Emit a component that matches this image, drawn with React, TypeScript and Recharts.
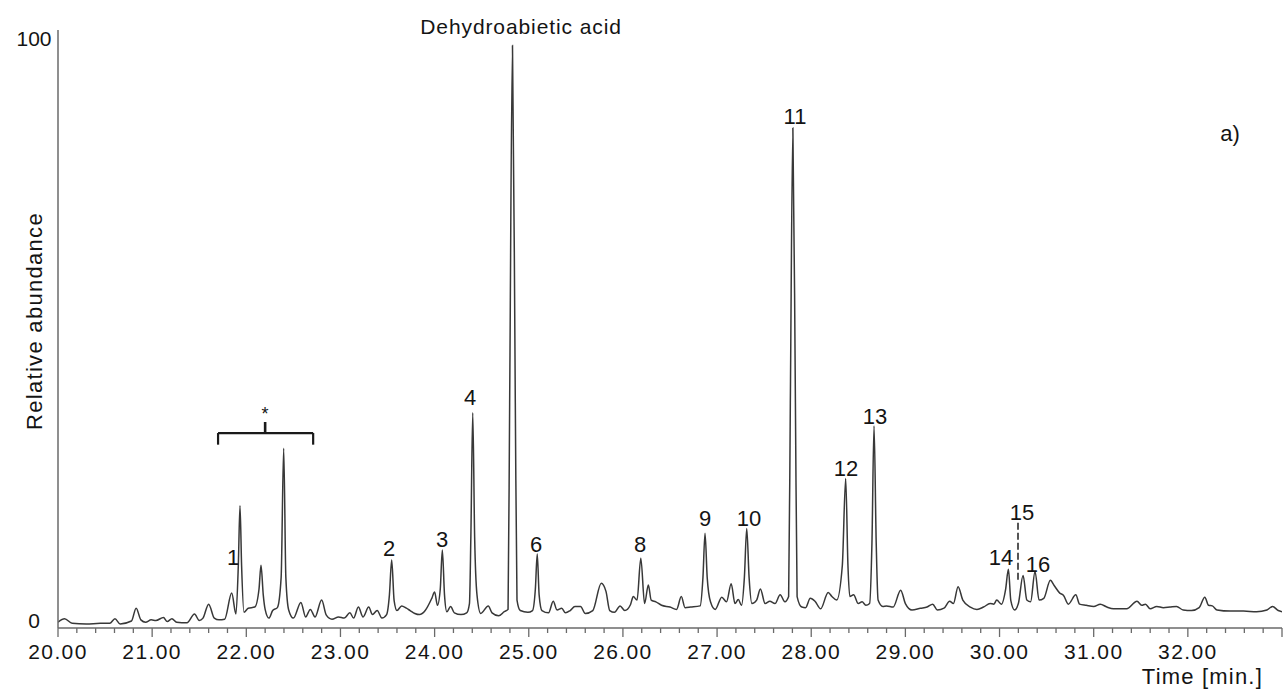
import React from 'react';
import { LineChart, Line, XAxis, YAxis, ReferenceDot, ReferenceLine } from 'recharts';

const times: number[] = [
  20.0, 20.07, 20.15, 20.3, 20.45, 20.55, 20.605, 20.66, 20.78, 20.83, 20.88, 20.93, 20.99, 21.04, 21.12, 21.16,
  21.21, 21.26, 21.37, 21.45, 21.5, 21.54, 21.6, 21.66, 21.71, 21.77, 21.845, 21.89, 21.915, 21.933, 21.95, 21.975,
  22.02, 22.09, 22.135, 22.156, 22.18, 22.2, 22.24, 22.28, 22.33, 22.37, 22.397, 22.42, 22.45, 22.5, 22.58, 22.63,
  22.68, 22.73, 22.8, 22.85, 22.91, 22.98, 23.04, 23.1, 23.14, 23.19, 23.24, 23.3, 23.34, 23.39, 23.44, 23.49,
  23.52, 23.544, 23.57, 23.6, 23.65, 23.7, 23.74, 23.79, 23.84, 23.9, 23.97, 24.0, 24.03, 24.06, 24.082, 24.105,
  24.13, 24.17, 24.21, 24.28, 24.34, 24.37, 24.385, 24.405, 24.425, 24.45, 24.49, 24.57, 24.61, 24.68, 24.74, 24.78,
  24.797, 24.827, 24.857, 24.875, 24.91, 24.99, 25.04, 25.07, 25.09, 25.11, 25.14, 25.21, 25.26, 25.3, 25.35, 25.39,
  25.44, 25.49, 25.55, 25.6, 25.68, 25.77, 25.82, 25.86, 25.91, 25.97, 26.02, 26.08, 26.11, 26.15, 26.19, 26.23,
  26.27, 26.3, 26.35, 26.41, 26.5, 26.57, 26.62, 26.66, 26.72, 26.82, 26.85, 26.872, 26.895, 26.93, 26.98, 27.05,
  27.1, 27.15, 27.19, 27.225, 27.26, 27.29, 27.315, 27.34, 27.37, 27.42, 27.46, 27.51, 27.56, 27.615, 27.67, 27.72,
  27.76, 27.778, 27.805, 27.832, 27.85, 27.9, 27.94, 27.99, 28.04, 28.1, 28.18, 28.22, 28.27, 28.33, 28.366, 28.39,
  28.41, 28.45, 28.5, 28.54, 28.58, 28.62, 28.645, 28.667, 28.69, 28.71, 28.76, 28.8, 28.87, 28.95, 29.0, 29.07,
  29.16, 29.23, 29.29, 29.34, 29.41, 29.47, 29.51, 29.56, 29.61, 29.69, 29.76, 29.83, 29.9, 29.94, 29.97, 30.02,
  30.065, 30.094, 30.12, 30.16, 30.2, 30.25, 30.29, 30.33, 30.377, 30.42, 30.47, 30.54, 30.58, 30.64, 30.68, 30.73,
  30.81, 30.85, 30.92, 31.0, 31.07, 31.14, 31.21, 31.35, 31.46, 31.51, 31.55, 31.6, 31.67, 31.74, 31.81, 31.88,
  31.95, 32.04, 32.12, 32.18, 32.22, 32.26, 32.31, 32.45, 32.59, 32.73, 32.84, 32.9, 32.96, 33.0,
];

const abundance: number[] = [
  0.3, 0.9, 0.1, 0.0, 0.1, 0.1, 0.9, 0.0, 0.5, 2.7, 0.7, 0.3, 0.7, 0.6, 1.1, 0.4,
  0.9, 0.3, 0.2, 1.7, 0.6, 1.0, 3.4, 1.0, 0.7, 0.8, 5.3, 1.7, 10.0, 20.3, 10.0, 2.0,
  2.7, 2.9, 6.0, 10.1, 5.0, 2.5, 1.0, 2.3, 2.8, 8.0, 30.2, 8.0, 2.4, 1.0, 3.7, 1.2,
  2.5, 1.2, 4.1, 1.5, 0.8, 1.2, 1.0, 1.9, 1.0, 2.9, 1.2, 2.9, 1.6, 2.3, 1.0, 1.6,
  5.0, 11.0, 4.0, 2.3, 3.1, 2.7, 2.3, 1.8, 1.6, 2.3, 4.4, 5.5, 3.2, 6.0, 12.7, 5.0,
  2.1, 3.0, 1.9, 1.6, 1.9, 3.5, 15.0, 36.3, 15.0, 5.0, 1.8, 3.1, 1.9, 1.4, 2.1, 2.5,
  38.0, 99.4, 38.0, 4.1, 2.3, 2.0, 2.3, 6.0, 12.0, 5.0, 2.3, 1.9, 3.9, 2.4, 2.7, 1.9,
  2.3, 3.0, 3.0, 1.8, 2.3, 7.0, 5.6, 2.3, 2.0, 3.1, 2.3, 3.3, 4.7, 4.1, 11.3, 3.5,
  6.7, 4.1, 3.8, 3.2, 2.9, 2.5, 4.7, 2.8, 2.9, 3.1, 8.0, 15.6, 8.0, 3.8, 2.5, 4.6,
  3.8, 6.9, 3.5, 4.2, 3.2, 8.0, 16.4, 8.0, 3.5, 4.1, 6.0, 3.5, 3.9, 3.5, 5.0, 3.8,
  4.7, 38.0, 85.2, 38.0, 4.7, 2.9, 2.8, 4.4, 3.9, 2.6, 5.4, 4.7, 4.1, 10.0, 25.0, 10.0,
  4.7, 5.0, 3.5, 3.8, 3.2, 3.5, 14.0, 34.0, 14.0, 4.1, 3.0, 3.1, 2.9, 5.8, 3.5, 2.4,
  2.7, 2.9, 3.4, 2.4, 2.7, 3.9, 3.5, 6.4, 4.1, 2.9, 2.5, 2.9, 3.5, 3.4, 4.1, 3.4,
  6.0, 9.4, 4.0, 2.4, 3.5, 8.3, 4.1, 3.8, 9.0, 4.1, 4.4, 7.5, 6.6, 5.3, 4.9, 3.4,
  5.0, 3.4, 3.2, 3.0, 3.4, 2.9, 2.6, 2.6, 3.9, 3.2, 3.4, 2.6, 3.0, 2.8, 2.9, 3.0,
  2.4, 2.3, 2.8, 4.6, 3.2, 3.1, 2.4, 2.2, 2.2, 2.1, 2.4, 3.0, 2.3, 2.1,
];

const majorTicks: number[] = [20, 21, 22, 23, 24, 25, 26, 27, 28, 29, 30, 31, 32, 33];
const majorTickLabels: string[] = ['20.00', '21.00', '22.00', '23.00', '24.00', '25.00', '26.00', '27.00', '28.00', '29.00', '30.00', '31.00', '32.00', ''];
const minorStep = 0.2;
const yTicks: number[] = [0, 100];
const yTickLabels: string[] = ['0', '100'];

const peakLabels: string[] = ['1', '2', '3', '4', '6', '8', '9', '10', '11', '12', '13', '14', '15', '16', '*'];
const peakLabelTimes: number[] = [21.859, 23.516, 24.079, 24.376, 25.077, 26.182, 26.872, 27.339, 27.828, 28.37, 28.678, 30.016, 30.239, 30.409, 22.199];
const peakLabelValues: number[] = [11.5, 13.06, 14.6, 39.0, 13.75, 13.75, 18.2, 18.2, 87.3, 26.8, 35.7, 11.5, 19.2, 10.3, 36.1];

const data = times.map((t, i) => ({ t, v: abundance[i] }));

const allTicks: number[] = [];
for (let k = 0; k <= 65; k++) allTicks.push(Math.round((20 + k * minorStep) * 100) / 100);

const FONT = '"Liberation Sans", Arial, sans-serif';
const TXT = '#141414';
const AXIS = '#6a6a6a';

const XTick = (props: any) => {
  const { x, y, payload } = props;
  const idx = majorTicks.findIndex((m) => Math.abs(m - payload.value) < 1e-6);
  const major = idx >= 0;
  return (
    <g>
      <line x1={x} y1={y} x2={x} y2={y + (major ? 9 : 5)} stroke={AXIS} strokeWidth={1.3} />
      {major && majorTickLabels[idx] !== '' && (
        <text x={x} y={y + 23} textAnchor="middle" dominantBaseline="central" fontFamily={FONT} fontSize={21} letterSpacing={1.4} fill={TXT}>
          {majorTickLabels[idx]}
        </text>
      )}
    </g>
  );
};

const YTick = (props: any) => {
  const { y, payload } = props;
  const idx = yTicks.indexOf(payload.value);
  return (
    <text x={34} y={y - 3} textAnchor="middle" dominantBaseline="central" fontFamily={FONT} fontSize={21} fill={TXT}>
      {idx >= 0 ? yTickLabels[idx] : ''}
    </text>
  );
};

export default function App() {
  return (
    <div style={{ position: 'absolute', left: 0, top: 0, width: 1287, height: 700, background: '#fff' }}>
      <LineChart width={1287} height={700} data={data} margin={{ top: 30, right: 5, left: 0, bottom: 0 }}>
        <XAxis
          dataKey="t"
          type="number"
          domain={[20, 33]}
          allowDataOverflow
          ticks={allTicks}
          interval={0}
          tickSize={0}
          tickMargin={0}
          tickLine={false}
          tick={<XTick />}
          height={72}
          axisLine={{ stroke: AXIS, strokeWidth: 1.5 }}
          label={{
            content: () => (
              <text x={1263} y={676} textAnchor="end" dominantBaseline="central" fontFamily={FONT} fontSize={22} letterSpacing={1.2} fill={TXT}>
                Time [min.]
              </text>
            ),
          }}
        />
        <YAxis
          type="number"
          domain={[-0.7, 102.05]}
          allowDataOverflow
          ticks={yTicks}
          tickLine={false}
          tick={<YTick />}
          width={58}
          axisLine={{ stroke: AXIS, strokeWidth: 1.5 }}
          label={{
            content: () => (
              <text x={34} y={321} transform="rotate(-90 34 321)" textAnchor="middle" dominantBaseline="central" fontFamily={FONT} fontSize={22} letterSpacing={1.3} fill={TXT}>
                Relative abundance
              </text>
            ),
          }}
        />
        <Line type="monotone" dataKey="v" stroke="#383838" strokeWidth={1.5} dot={false} isAnimationActive={false} />

        {/* bracket over the * group */}
        <ReferenceLine segment={[{ x: 21.7, y: 32.8 }, { x: 22.71, y: 32.8 }]} stroke="#1a1a1a" strokeWidth={2.2} ifOverflow="visible" />
        <ReferenceLine segment={[{ x: 21.7, y: 32.8 }, { x: 21.7, y: 30.8 }]} stroke="#1a1a1a" strokeWidth={2.2} ifOverflow="visible" />
        <ReferenceLine segment={[{ x: 22.71, y: 32.8 }, { x: 22.71, y: 30.8 }]} stroke="#1a1a1a" strokeWidth={2.2} ifOverflow="visible" />
        <ReferenceLine segment={[{ x: 22.2, y: 32.8 }, { x: 22.2, y: 34.7 }]} stroke="#1a1a1a" strokeWidth={2.6} ifOverflow="visible" />

        {/* dashed pointer for peak 15 */}
        <ReferenceLine segment={[{ x: 30.196, y: 17.4 }, { x: 30.196, y: 7.6 }]} stroke="#555" strokeWidth={2} strokeDasharray="7 3" ifOverflow="visible" />

        {peakLabels.map((lab, i) => (
          <ReferenceDot
            key={'pl' + i}
            x={peakLabelTimes[i]}
            y={peakLabelValues[i]}
            r={0}
            stroke="none"
            fill="none"
            ifOverflow="visible"
            label={{ value: lab, position: 'center', fill: TXT, fontSize: lab === '*' ? 18 : 22, fontFamily: FONT }}
          />
        ))}
        <ReferenceDot
          x={24.918}
          y={102.6}
          r={0}
          stroke="none"
          fill="none"
          ifOverflow="visible"
          label={{ value: 'Dehydroabietic acid', position: 'center', fill: TXT, fontSize: 21, fontFamily: FONT, letterSpacing: 0.9 }}
        />
        <ReferenceDot
          x={32.448}
          y={84.4}
          r={0}
          stroke="none"
          fill="none"
          ifOverflow="visible"
          label={{ value: 'a)', position: 'center', fill: TXT, fontSize: 22, fontFamily: FONT }}
        />
      </LineChart>
    </div>
  );
}
